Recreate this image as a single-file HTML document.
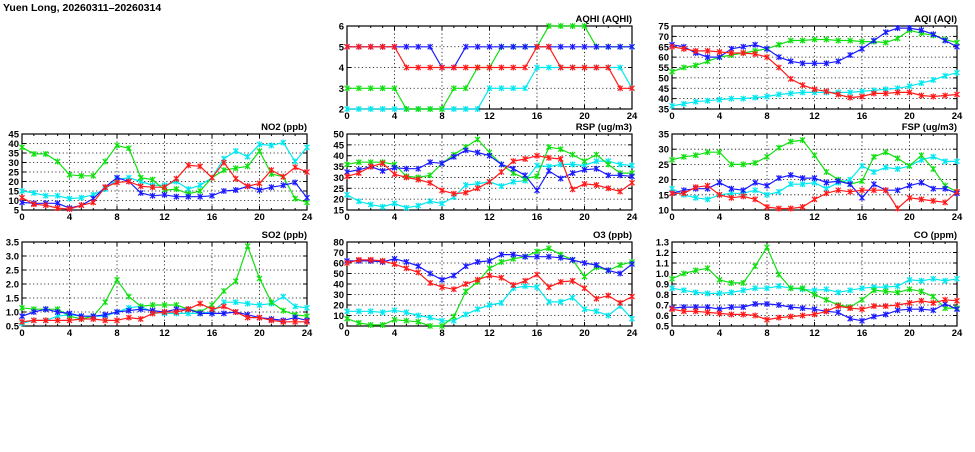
<!DOCTYPE html>
<html><head><meta charset="utf-8"><style>
body{margin:0;background:#fff;width:975px;height:447px;overflow:hidden}
svg text{font-family:"Liberation Sans",sans-serif;font-weight:bold;font-size:9.5px;fill:#000}
</style></head><body>
<svg id="c" width="975" height="447">
<text x="3" y="11" style="font-size:10.5px">Yuen Long, 20260311–20260314</text>
</svg>
<script>
const hours = [0,1,2,3,4,5,6,7,8,9,10,11,12,13,14,15,16,17,18,19,20,21,22,23,24];
const xTickLabels = [0,4,8,12,16,20,24];
const aqhiGreen=[3,3,3,3,3,2,2,2,2,3,3,4,4,5,5,5,5,6,6,6,6,5,5,5,5];
const aqhiCyan=[2,2,2,2,2,2,2,2,2,2,2,2,3,3,3,3,4,4,4,4,4,4,4,4,3];
const aqhiBlue=[5,5,5,5,5,5,5,5,4,4,5,5,5,5,5,5,5,5,5,5,5,5,5,5,5];
const aqhiRed=[5,5,5,5,5,4,4,4,4,4,4,4,4,4,4,4,5,5,4,4,4,4,4,3,3];
const aqiGreen=[53,55,56,58,60,61,62,63,64,66,68,68,68.5,68.5,68,68,67.5,67.5,67,69,73,71.5,70.5,68.5,67];
const aqiCyan=[36.5,37.5,38.5,39,39.5,40,40,40.5,41,42,42.5,43,43,43,43,43,43.5,44,44.5,45,46,47.5,49,51,52.5];
const aqiBlue=[66,65,62,60,60,64,65,66,64,60,58,57,57,57,58,61,64,68,72,74,74,73,71,68,65];
const aqiRed=[65,64,63,63,62.5,62,62,61.5,60,55,49.5,46.5,44.5,43.5,42,40.5,41,42.5,42.5,43,43,41.5,41,41.5,42];
const no2Green=[38,34.5,34.5,30.5,23.5,23,23,30.5,39,37.5,22,21,15.5,16,13.5,15,22,26,27,28,36,24,22.5,11,9];
const no2Cyan=[15,14,12.5,12.5,11,11.5,13,16,21,22,20,18,18,20,16,18,22,32,36,33,39.5,39,40.5,30.5,38];
const no2Blue=[9,8.5,8.5,8.5,6,7.5,11,17,22,20,14,12.5,13,12,12,12,12.5,15,15.5,17.5,15.5,17,18,19.5,11.5];
const no2Red=[11.5,8,7.5,6,5.5,7.5,9,17,19.5,20,17.5,17,17,21.5,28.5,28,22,30,21.5,17.5,19,26,22.5,27.5,25];
const rspGreen=[36,37,37,37,36,30.5,30,31,36.5,40.5,44,47.5,41.5,36,32,29.5,30.5,44,43,40.5,37.5,40.5,36,32,32];
const rspCyan=[22,19,17.5,16.5,18,16,17,19,18,21,26.5,27,28,26,28,28.5,35.5,35,36,36,35.5,37.5,37.5,36,35.5];
const rspBlue=[32.5,33.5,35,33,34.5,34,34,37,36.5,39.5,42.5,41.5,40,36,34,31,24,33,29.5,32,33.5,34,31,31,30.5];
const rspRed=[30.5,32,35,36.5,31.5,30,29,27.5,24,22.5,23,25,28,32.5,37.5,38.5,40,39,38.5,24.5,27,26.5,25,23.5,27.5];
const fspGreen=[26.5,27.5,28,29,29,25,25,25.5,27.5,30.5,32.5,33,28,22.5,20,18.5,19.5,27.5,29,27,24.5,28,23.5,18,16];
const fspCyan=[17,15,14,13.5,15,15.5,15.5,16.5,15,16,18.5,18.5,19,17,19,20,24.5,22.5,24,23.5,24.5,26.5,27.5,26,26];
const fspBlue=[15.5,16.5,17,17,19,17,16.5,19,18,20.5,21.5,20.5,20.5,19,19.5,18.5,14,18.5,16.5,16.5,18,19,17,17,15.5];
const fspRed=[15.5,15.5,17.5,18,15,14,14.5,13.5,11,10.5,10.5,11,13.5,15.5,16.5,16,16.5,16.5,16.5,10.5,14,13.5,13,12.5,16];
const so2Green=[1.15,1.1,1.1,1.1,0.85,0.75,0.85,1.35,2.15,1.55,1.2,1.25,1.25,1.25,1.1,1.0,1.25,1.75,2.1,3.35,2.2,1.35,1.05,0.9,0.85];
const so2Cyan=[0.6,0.7,0.7,0.85,0.9,0.85,0.85,0.85,1.0,1.15,1.2,1.0,0.95,0.95,0.95,0.95,1.0,1.35,1.35,1.3,1.25,1.3,1.55,1.2,1.15];
const so2Blue=[0.85,1.0,1.1,1.0,0.95,0.85,0.85,0.9,1.0,1.05,1.1,1.05,1.0,1.1,1.1,0.95,0.95,0.95,1.0,0.9,0.8,0.75,0.7,0.8,0.7];
const so2Red=[0.65,0.7,0.7,0.7,0.7,0.75,0.75,0.7,0.7,0.8,0.75,0.95,1.0,1.0,1.1,1.3,1.1,1.2,1.0,0.8,0.8,0.7,0.65,0.65,0.65];
const o3Green=[7,3,1,1,6,5,4,0,0,9,33,42,55,61,64,66,71,74,68,63,47,56,53,58,61];
const o3Cyan=[14,14,14,13,15,13,10,8,5,5,11,16,20,22,36,38,37,23,23,27,16,14,10,19,7];
const o3Blue=[62,62,62,61,64,61,57,50,44,48,57,61,62,68,68,66,66,66,65,63,60,58,53,50,59];
const o3Red=[60,63,63,62,59,55,51,41,37,35,40,44,48,46,39,43,49,37,42,43,36,26,29,22,28];
const coGreen=[0.95,1.0,1.03,1.05,0.94,0.91,0.91,1.07,1.25,0.99,0.86,0.86,0.8,0.75,0.7,0.68,0.75,0.84,0.83,0.82,0.85,0.83,0.78,0.67,0.67];
const coCyan=[0.86,0.84,0.82,0.81,0.81,0.82,0.84,0.86,0.86,0.88,0.86,0.85,0.84,0.85,0.82,0.84,0.86,0.87,0.87,0.88,0.94,0.93,0.95,0.93,0.95];
const coBlue=[0.67,0.68,0.68,0.68,0.66,0.68,0.68,0.71,0.71,0.7,0.68,0.67,0.66,0.64,0.63,0.57,0.55,0.59,0.61,0.65,0.66,0.66,0.65,0.71,0.66];
const coRed=[0.66,0.64,0.64,0.63,0.62,0.61,0.61,0.6,0.56,0.58,0.59,0.6,0.61,0.64,0.69,0.67,0.66,0.69,0.69,0.7,0.72,0.74,0.72,0.75,0.74];
const aqhiTicks=[2,3,4,5,6], aqiTicks=[35,40,45,50,55,60,65,70,75], no2Ticks=[5,10,15,20,25,30,35,40,45];
const rspTicks=[15,20,25,30,35,40,45,50], fspTicks=[10,15,20,25,30,35], so2Ticks=[0.5,1.0,1.5,2.0,2.5,3.0,3.5];
const o3Ticks=[0,10,20,30,40,50,60,70,80], coTicks=[0.5,0.6,0.7,0.8,0.9,1.0,1.1,1.2,1.3];

const svg=document.getElementById('c');const NS='http://www.w3.org/2000/svg';
function mk(t,a,p){const e=document.createElementNS(NS,t);for(const k in a)e.setAttribute(k,a[k]);(p||svg).appendChild(e);return e;}
const COLORS={green:'#10e010',cyan:'#00e8f0',blue:'#1a1aff',red:'#ff1a1a'};
function panel(name,title,L,T,H,ticks,dec,series){
  const W=285;const g=mk('g',{});
  
  
  const y0=ticks[0],y1=ticks[ticks.length-1];
  const xs=h=>L+h/24*W, ys=v=>T+H-(v-y0)/(y1-y0)*H;
  ticks.forEach((v,i)=>{const y=ys(v);
    if(i>0&&i<ticks.length-1){const l=mk('line',{x1:L,x2:L+W,y1:y,y2:y,stroke:'#000','stroke-width':0.8,'stroke-dasharray':'1.2,2.5'},g);}
    mk('line',{x1:L,x2:L+4,y1:y,y2:y,stroke:'#000'},g);mk('line',{x1:L+W-4,x2:L+W,y1:y,y2:y,stroke:'#000'},g);
    const t=mk('text',{x:L-3,y:y+3.5,'text-anchor':'end'},g);t.textContent=v.toFixed(dec);
    });
  hours.forEach(h=>{const x=xs(h),len=h%4==0?4:2;mk('line',{x1:x,x2:x,y1:T+H,y2:T+H-len,stroke:'#000'},g);mk('line',{x1:x,x2:x,y1:T,y2:T+len,stroke:'#000'},g);});
  xTickLabels.forEach(h=>{const x=xs(h);
    if(h>0&&h<24){const l=mk('line',{x1:x,x2:x,y1:T,y2:T+H,stroke:'#000','stroke-width':0.8,'stroke-dasharray':'1.2,2.5'},g);}
    const t=mk('text',{x:x,y:T+H+10,'text-anchor':'middle'},g);t.textContent=h;
    });
  const f=mk('rect',{x:L,y:T,width:W,height:H,fill:'none',stroke:'#000','stroke-width':1.2},g);
  
  const tt=mk('text',{x:L+W,y:T-4,'text-anchor':'end'},g);tt.textContent=title;
  
  series.forEach(([col,vals])=>{const c=COLORS[col];
    const pts=vals.map((v,i)=>xs(hours[i]).toFixed(1)+','+ys(v).toFixed(1)).join(' ');
    const pl=mk('polyline',{points:pts,fill:'none',stroke:c,'stroke-width':1.2},g);
    
    vals.forEach((v,i)=>{const x=xs(hours[i]),y=ys(v);
      const m=mk('path',{d:`M${x-2.5},${y-2.5}L${x+2.5},${y+2.5}M${x-2.5},${y+2.5}L${x+2.5},${y-2.5}M${x},${y-3}V${y+3}`,stroke:c,'stroke-width':1.2,fill:'none'},g);
      });
  });
}
const Ls=[22,347,672],Ts=[26,134,242],Hs=[83,76,84];
panel('aqhi','AQHI (AQHI)',Ls[1],Ts[0],Hs[0],aqhiTicks,0,[['cyan',aqhiCyan],['green',aqhiGreen],['blue',aqhiBlue],['red',aqhiRed]]);
panel('aqi','AQI (AQI)',Ls[2],Ts[0],Hs[0],aqiTicks,0,[['cyan',aqiCyan],['green',aqiGreen],['blue',aqiBlue],['red',aqiRed]]);
panel('no2','NO2 (ppb)',Ls[0],Ts[1],Hs[1],no2Ticks,0,[['cyan',no2Cyan],['green',no2Green],['blue',no2Blue],['red',no2Red]]);
panel('rsp','RSP (ug/m3)',Ls[1],Ts[1],Hs[1],rspTicks,0,[['cyan',rspCyan],['green',rspGreen],['blue',rspBlue],['red',rspRed]]);
panel('fsp','FSP (ug/m3)',Ls[2],Ts[1],Hs[1],fspTicks,0,[['cyan',fspCyan],['green',fspGreen],['blue',fspBlue],['red',fspRed]]);
panel('so2','SO2 (ppb)',Ls[0],Ts[2],Hs[2],so2Ticks,1,[['cyan',so2Cyan],['green',so2Green],['blue',so2Blue],['red',so2Red]]);
panel('o3','O3 (ppb)',Ls[1],Ts[2],Hs[2],o3Ticks,0,[['cyan',o3Cyan],['green',o3Green],['blue',o3Blue],['red',o3Red]]);
panel('co','CO (ppm)',Ls[2],Ts[2],Hs[2],coTicks,1,[['cyan',coCyan],['green',coGreen],['blue',coBlue],['red',coRed]]);
</script>
</body></html>
